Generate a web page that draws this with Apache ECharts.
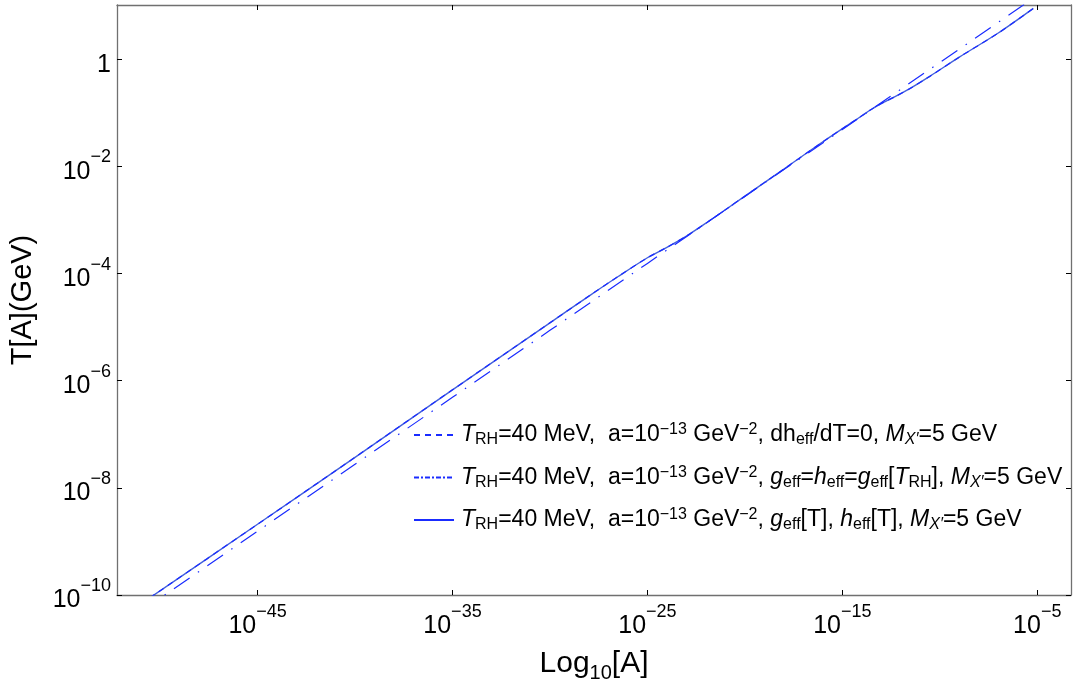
<!DOCTYPE html>
<html>
<head>
<meta charset="utf-8">
<script src="https://cdn.jsdelivr.net/npm/echarts@6/dist/echarts.min.js"></script>
<style>
  html, body { margin: 0; padding: 0; background: #fff; }
  #chart { width: 1073px; height: 679px; }
</style>
</head>
<body>
<div id="chart"></div>
<script>
// Exponents (log10) of A and of T[A] in GeV along each curve.
const fullLogA = [-51, -45, -40, -35, -30, -28, -26.5, -25, -24, -23, -22, -20, -18, -16, -14, -13.4, -12.8, -12.2, -11.5, -10.5, -9, -7, -5.2];
const fullLogT = [-10.17, -8.68, -7.43, -6.17, -4.92, -4.42, -4.055, -3.705, -3.51, -3.30, -3.06, -2.555, -2.05, -1.54, -1.055, -0.91, -0.79, -0.68, -0.54, -0.315, 0.04, 0.49, 0.95];

const fixedHLogA = [-51, -45, -40, -35, -30, -28, -26.5, -25, -24, -23, -22, -20, -18, -16, -14, -13.4, -12.8, -12.2, -11.5, -10.5, -9, -7, -5.2];
const fixedHLogT = [-10.17, -8.68, -7.43, -6.17, -4.92, -4.42, -4.055, -3.705, -3.51, -3.30, -3.06, -2.555, -2.05, -1.54, -1.055, -0.91, -0.79, -0.68, -0.54, -0.315, 0.04, 0.49, 0.95];

const constGLogA = [-51, -45, -40, -35, -30, -25, -20, -15, -10, -5.2];
const constGLogT = [-10.31, -8.81, -7.56, -6.31, -5.06, -3.81, -2.56, -1.31, -0.06, 1.14];

// Tick exponents
const xTickExp = [-45, -35, -25, -15, -5];
const yTickExp = [-10, -8, -6, -4, -2, 0];

// Axis extents (exponents)
const xMinExp = -52.21, xMaxExp = -3.27;
const yMinExp = -10, yMaxExp = 1.013;

const pow10 = e => Math.pow(10, e);
const toPairs = (la, lt) => la.map((a, i) => [pow10(a), pow10(lt[i])]);

const FONT = '"Liberation Sans", Arial, Helvetica, sans-serif';
const BLUE = '#1a2cff';

const tickFormatter = v => {
  const e = Math.round(Math.log10(v));
  if (e === 0) return '{b|1}';
  return '{b|10}{sup|' + (e < 0 ? '\u2212' + (-e) : e) + '}';
};
const tickRich = {
  b: { fontFamily: FONT, fontSize: 25, color: '#000', lineHeight: 36, verticalAlign: 'bottom' },
  sup: { fontFamily: FONT, fontSize: 18, color: '#000', lineHeight: 36, verticalAlign: 'top' }
};

const names = {
  dh: 'TRH=40 MeV, a=1e-13 GeV-2, dheff/dT=0, MX\u2032=5 GeV',
  cg: 'TRH=40 MeV, a=1e-13 GeV-2, geff=heff=geff[TRH], MX\u2032=5 GeV',
  full: 'TRH=40 MeV, a=1e-13 GeV-2, geff[T], heff[T], MX\u2032=5 GeV'
};
const head = '{i|T}{sub|RH}{n|=40 MeV,  a=10}{sup|\u221213}{n| GeV}{sup|\u22122}';
const legendRich = {};
legendRich[names.dh] = head + '{n|, dh}{sub|eff}{n|/dT=0, }{i|M}{isub|X\u2032}{n|=5 GeV}';
legendRich[names.cg] = head + '{n|, }{i|g}{sub|eff}{n|=}{i|h}{sub|eff}{n|=}{i|g}{sub|eff}{n|[}{i|T}{sub|RH}{n|], }{i|M}{isub|X\u2032}{n|=5 GeV}';
legendRich[names.full] = head + '{n|, }{i|g}{sub|eff}{n|[T], }{i|h}{sub|eff}{n|[T], }{i|M}{isub|X\u2032}{n|=5 GeV}';

const frameLine = { show: true, onZero: false, lineStyle: { color: '#707070', width: 1.3 } };
const tickStyle = { show: true, inside: true, length: 5, lineStyle: { color: '#000', width: 1 } };
const hiddenMarker = { color: 'rgba(0,0,0,0)', borderColor: 'rgba(0,0,0,0)', borderWidth: 0, opacity: 0 };

const LFS = 23, LSS = 16, LLH = 26;

const chart = echarts.init(document.getElementById('chart'), null, { renderer: 'canvas' });

chart.setOption({
  backgroundColor: '#fff',
  animation: false,
  grid: { left: 117, right: 2, top: 5, bottom: 84, containLabel: false, outerBoundsMode: 'none' },
  xAxis: [
    {
      type: 'log', logBase: 10, position: 'bottom',
      min: pow10(xMinExp), max: pow10(xMaxExp),
      axisLine: frameLine,
      axisTick: Object.assign({ customValues: xTickExp.map(pow10) }, tickStyle),
      axisLabel: { customValues: xTickExp.map(pow10), formatter: tickFormatter, rich: tickRich, margin: 8 },
      splitLine: { show: false }, minorTick: { show: false },
      name: 'Log{s|10}[A]', nameLocation: 'middle', nameGap: 45,
      nameTextStyle: {
        fontFamily: FONT, fontSize: 30, color: '#000', lineHeight: 34,
        rich: {
          s: { fontFamily: FONT, fontSize: 20, color: '#000', verticalAlign: 'bottom', lineHeight: 40 }
        }
      }
    },
    {
      type: 'log', logBase: 10, position: 'top',
      min: pow10(xMinExp), max: pow10(xMaxExp),
      axisLine: frameLine,
      axisTick: Object.assign({ customValues: xTickExp.map(pow10) }, tickStyle),
      axisLabel: { show: false },
      splitLine: { show: false }
    }
  ],
  yAxis: [
    {
      type: 'log', logBase: 10, position: 'left',
      min: pow10(yMinExp), max: pow10(yMaxExp),
      axisLine: frameLine,
      axisTick: Object.assign({ customValues: yTickExp.map(pow10) }, tickStyle),
      axisLabel: { customValues: yTickExp.map(pow10), formatter: tickFormatter, rich: tickRich, margin: 6 },
      splitLine: { show: false }, minorTick: { show: false },
      name: 'T[A](GeV)', nameLocation: 'middle', nameRotate: 90, nameGap: 80,
      nameTextStyle: { fontFamily: FONT, fontSize: 29, color: '#000' }
    },
    {
      type: 'log', logBase: 10, position: 'right',
      min: pow10(yMinExp), max: pow10(yMaxExp),
      axisLine: frameLine,
      axisTick: Object.assign({ customValues: yTickExp.map(pow10) }, tickStyle),
      axisLabel: { show: false },
      splitLine: { show: false }
    }
  ],
  legend: {
    orient: 'vertical', left: 413, top: 422,
    itemWidth: 40, itemHeight: 12, itemGap: 16.5,
    padding: 0,
    itemStyle: hiddenMarker,
    data: [
      { name: names.dh, itemStyle: hiddenMarker, lineStyle: { type: [6, 5], width: 2, color: BLUE } },
      { name: names.cg, itemStyle: hiddenMarker, lineStyle: { type: [5, 2, 2, 2], width: 2, color: BLUE } },
      { name: names.full, itemStyle: hiddenMarker, lineStyle: { type: 'solid', width: 2, color: BLUE } }
    ],
    formatter: name => legendRich[name],
    textStyle: {
      fontFamily: FONT, fontSize: LFS, color: '#000', padding: [0, 0, 0, 2],
      rich: {
        n: { fontFamily: FONT, fontSize: LFS, color: '#000', lineHeight: LLH, verticalAlign: 'middle' },
        i: { fontFamily: FONT, fontSize: LFS, fontStyle: 'italic', color: '#000', lineHeight: LLH, verticalAlign: 'middle' },
        sub: { fontFamily: FONT, fontSize: LSS, color: '#000', lineHeight: LLH, verticalAlign: 'bottom' },
        isub: { fontFamily: FONT, fontSize: LSS, fontStyle: 'italic', color: '#000', lineHeight: LLH, verticalAlign: 'bottom' },
        sup: { fontFamily: FONT, fontSize: LSS, color: '#000', lineHeight: LLH, verticalAlign: 'top' }
      }
    }
  },
  series: [
    {
      name: names.full, type: 'line', xAxisIndex: 0, yAxisIndex: 0,
      data: toPairs(fullLogA, fullLogT),
      symbol: 'none', showSymbol: false, smooth: 0.3, clip: true, z: 2,
      lineStyle: { color: '#4360dc', width: 1.4, type: 'solid' }
    },
    {
      name: names.cg, type: 'line', xAxisIndex: 0, yAxisIndex: 0,
      data: toPairs(constGLogA, constGLogT),
      symbol: 'none', showSymbol: false, clip: true, z: 3,
      lineStyle: { color: BLUE, width: 1.2, type: [19, 10, 1.5, 10] }
    },
    {
      name: names.dh, type: 'line', xAxisIndex: 0, yAxisIndex: 0,
      data: toPairs(fixedHLogA, fixedHLogT),
      symbol: 'none', showSymbol: false, smooth: 0.3, clip: true, z: 4,
      lineStyle: { color: BLUE, width: 1.2, type: [6, 5] }
    }
  ]
});
</script>
</body>
</html>
